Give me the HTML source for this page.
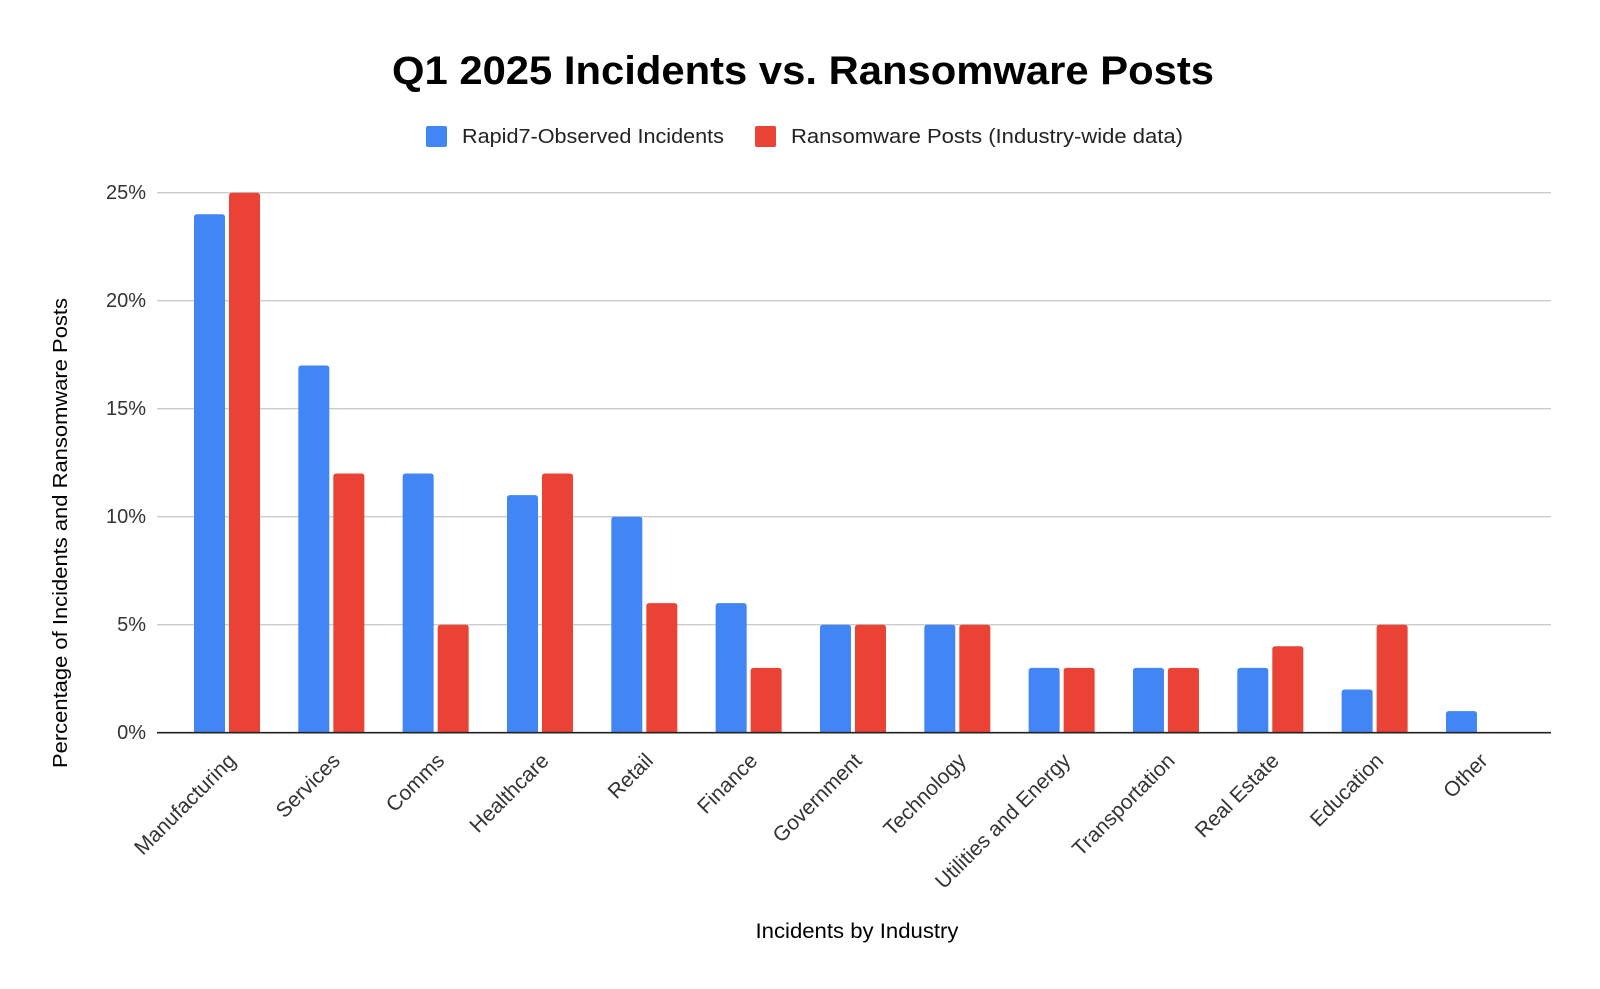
<!DOCTYPE html>
<html><head><meta charset="utf-8"><style>
html,body{margin:0;padding:0;background:#fff;}
svg{display:block;font-family:"Liberation Sans",Arial,sans-serif;}
</style></head><body>
<svg width="1600" height="989" viewBox="0 0 1600 989" xmlns="http://www.w3.org/2000/svg">
<rect width="1600" height="989" fill="#fff"/>
<text x="803" y="84" text-anchor="middle" font-size="40" font-weight="bold" fill="#000" textLength="822" lengthAdjust="spacingAndGlyphs">Q1 2025 Incidents vs. Ransomware Posts</text>
<rect x="426" y="126" width="21" height="21" rx="2" fill="#4285F4"/>
<text x="462" y="143" font-size="20" fill="#222" textLength="262" lengthAdjust="spacingAndGlyphs">Rapid7-Observed Incidents</text>
<rect x="755" y="126" width="21" height="21" rx="2" fill="#EA4335"/>
<text x="791" y="143" font-size="20" fill="#222" textLength="392" lengthAdjust="spacingAndGlyphs">Ransomware Posts (Industry-wide data)</text>
<g stroke="#cccccc" stroke-width="1.3">
<line x1="157" y1="192.7" x2="1551" y2="192.7"/>
<line x1="157" y1="300.7" x2="1551" y2="300.7"/>
<line x1="157" y1="408.7" x2="1551" y2="408.7"/>
<line x1="157" y1="516.7" x2="1551" y2="516.7"/>
<line x1="157" y1="624.7" x2="1551" y2="624.7"/>
</g>
<g font-size="20" fill="#333" text-anchor="end">
<text x="146" y="199">25%</text>
<text x="146" y="307">20%</text>
<text x="146" y="415">15%</text>
<text x="146" y="523">10%</text>
<text x="146" y="631">5%</text>
<text x="146" y="739">0%</text>
</g>
<text transform="translate(67,533) rotate(-90)" text-anchor="middle" font-size="20" fill="#000" textLength="470" lengthAdjust="spacingAndGlyphs">Percentage of Incidents and Ransomware Posts</text>
<g id="bars"></g>
<line x1="157" y1="732.7" x2="1551" y2="732.7" stroke="#222" stroke-width="1.6"/>
<g id="labels" font-size="21" fill="#333" text-anchor="end"></g>
<text x="857" y="938" text-anchor="middle" font-size="21" fill="#000" textLength="203" lengthAdjust="spacingAndGlyphs">Incidents by Industry</text>
<script>
var cats=["Manufacturing","Services","Comms","Healthcare","Retail","Finance","Government","Technology","Utilities and Energy","Transportation","Real Estate","Education","Other"];
var b=[24,17,12,11,10,6,5,5,3,3,3,2,1],r=[25,12,5,12,6,3,5,5,3,3,4,5,0];
var ns="http://www.w3.org/2000/svg",base=732.7,k=21.6,step=104.33;
function bar(x,v,c){if(!v)return;var h=v*k,y=base-h,w=31,rr=3;var p=document.createElementNS(ns,"path");
p.setAttribute("d","M"+x+","+base+"V"+(y+rr)+"Q"+x+","+y+" "+(x+rr)+","+y+"H"+(x+w-rr)+"Q"+(x+w)+","+y+" "+(x+w)+","+(y+rr)+"V"+base+"Z");
p.setAttribute("fill",c);document.getElementById("bars").appendChild(p);}
for(var i=0;i<13;i++){var x0=194+i*step;bar(x0,b[i],"#4285F4");bar(x0+35,r[i],"#EA4335");
var cx=x0+33,t=document.createElementNS(ns,"text");t.setAttribute("transform","translate("+(cx+10)+",762) rotate(-45)");t.textContent=cats[i];document.getElementById("labels").appendChild(t);}
</script>
</svg>
</body></html>
